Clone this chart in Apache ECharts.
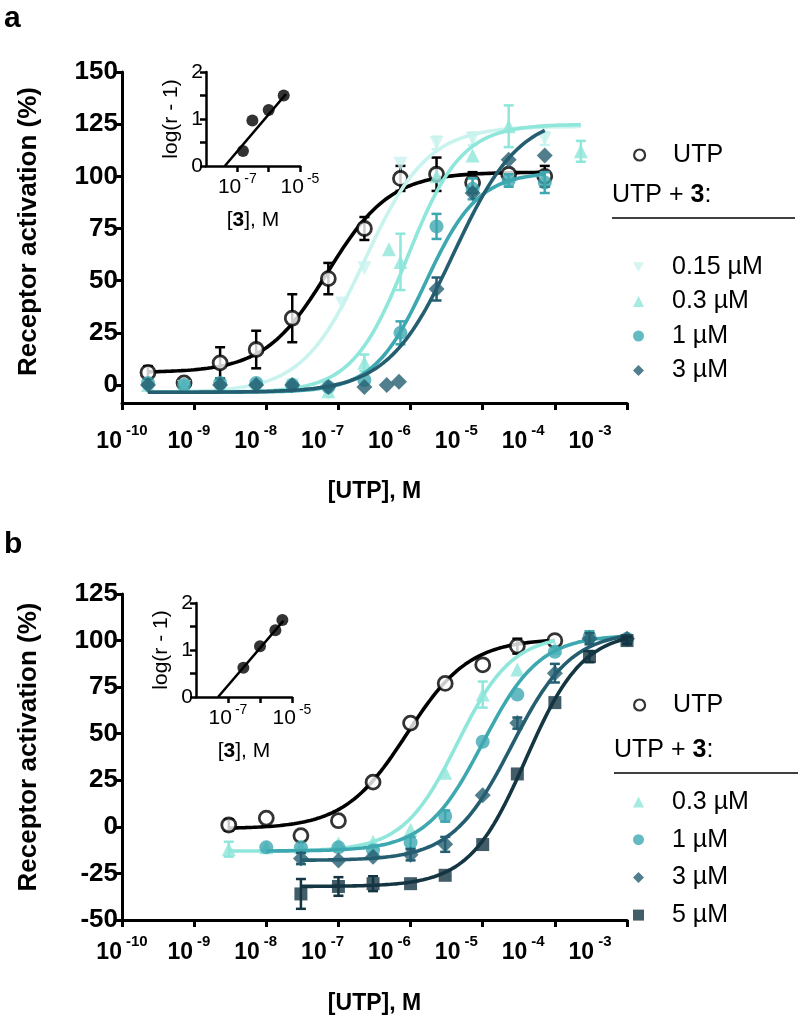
<!DOCTYPE html>
<html><head><meta charset="utf-8">
<script src="https://cdn.jsdelivr.net/npm/echarts@6/dist/echarts.min.js"></script>
<style>html,body{margin:0;padding:0;background:#fff}#c{width:799px;height:1028px}</style>
</head><body><div id="c"></div>
<script>
// ---------- tick labels ----------
const xTickExps = [-10, -9, -8, -7, -6, -5, -4, -3];
const yTicksA = [0, 25, 50, 75, 100, 125, 150];
const yTicksB = [-50, -25, 0, 25, 50, 75, 100, 125];
const insetXLabels = [-7, -5];
const insetXTicks = [-7, -6, -5];
const insetYLabels = [0, 1, 2];
const insetYTicks = [0, 0.5, 1, 1.5, 2];

// ---------- panel a : [log10 [UTP] (M), activation %, error] ----------
const namesA = ['UTP', '0.15 µM', '0.3 µM', '1 µM', '3 µM'];
const aUTP = [[-9.64, 6, 3], [-9.14, 1, 0], [-8.64, 10.6, 7.5], [-8.14, 17, 9], [-7.64, 32, 11.5], [-7.14, 51, 7.5], [-6.64, 75, 5.5], [-6.14, 99, 6], [-5.64, 101, 8], [-5.14, 97, 5], [-4.64, 101, 0], [-4.14, 100, 5]];
const a015 = [[-9.64, -1, 0], [-9.14, -1, 0], [-8.64, -1, 0], [-8.14, -1, 0], [-7.64, 0, 0], [-7.14, -4, 0], [-6.95, 39, 0], [-6.64, 56, 0], [-6.14, 106, 0], [-5.64, 116, 3], [-5.14, 118, 3], [-4.14, 118, 3]];
const a03 = [[-9.64, 0, 0], [-9.14, 0, 0], [-8.64, 0, 0], [-8.14, 0, 0], [-7.64, 0, 0], [-7.14, -3, 0], [-6.64, 10.6, 4], [-6.3, 65, 0], [-6.14, 59, 13.5], [-5.64, 100, 0], [-5.14, 110, 0], [-4.64, 124, 10], [-3.64, 112, 5]];
const a1 = [[-9.64, 1, 0], [-9.14, 0, 0], [-8.64, 1, 0], [-8.14, 1, 0], [-7.64, 0, 0], [-7.14, -1, 0], [-6.64, 2.4, 0], [-6.14, 25, 5.5], [-5.64, 76, 6], [-5.14, 94, 5], [-4.64, 98, 3], [-4.14, 97, 5]];
const a3 = [[-9.64, 0, 0], [-8.64, 0, 0], [-8.14, 0, 0], [-7.64, 0, 0], [-7.14, -1, 0], [-6.64, -1, 0], [-6.33, 0, 0], [-6.16, 1.5, 0], [-5.64, 46, 5.5], [-5.14, 92, 0], [-4.64, 108, 0], [-4.14, 110, 0]];
// fitted curves : [bottom, top, logEC50, hill, log start, log end]
const fitA = [[6, 102, -7.15, 1.0, -9.64, -4.14], [-3.5, 124, -6.63, 1.0, -9.64, -3.64], [-3.5, 125, -6.05, 1.15, -9.64, -3.64], [-3.5, 102, -5.79, 1.2, -9.64, -4.14], [-3.5, 130, -5.4, 0.95, -9.64, -4.14]];

// ---------- panel b ----------
const namesB = ['UTP', '0.3 µM', '1 µM', '3 µM', '5 µM'];
const bUTP = [[-8.52, 1, 3], [-8.0, 4.7, 0], [-7.52, -4.7, 0], [-7.0, 3.3, 0], [-6.52, 24, 0], [-6.0, 55.7, 0], [-5.52, 77, 0], [-5.0, 87, 0], [-4.52, 97, 4], [-4.0, 100, 0]];
const b03 = [[-8.52, -12, 4], [-8.0, -11, 0], [-7.52, -11, 0], [-7.0, -9, 0], [-6.52, -8, 0], [-6.0, -1.6, 0], [-5.52, 29, 0], [-5.0, 71, 7], [-4.52, 84.5, 0], [-4.0, 96, 0]];
const b1 = [[-8.0, -11, 0], [-7.52, -11, 0], [-7.0, -11, 0], [-6.52, -12.6, 0], [-6.0, -8.4, 3], [-5.52, 5.8, 3], [-5.0, 45.7, 0], [-4.52, 71, 0], [-4.0, 94, 0], [-3.52, 102, 3], [-3.0, 101, 0]];
const b3 = [[-7.52, -17, 3], [-7.0, -18, 0], [-6.52, -16, 0], [-6.0, -15, 3], [-5.52, -9.4, 4], [-5.0, 17, 0], [-4.52, 55.7, 3], [-4.0, 82.5, 5], [-3.52, 101, 3], [-3.0, 101, 0]];
const b5 = [[-7.52, -36, 8], [-7.0, -32, 5], [-6.52, -30.5, 4], [-6.0, -30.5, 0], [-5.52, -26, 0], [-5.0, -9.5, 0], [-4.52, 28.4, 0], [-4.0, 66.7, 0], [-3.52, 91.4, 3], [-3.0, 100, 2]];
const fitB = [[-1, 101, -6.05, 1.0, -8.52, -4.0], [-13, 103, -5.35, 1.15, -8.52, -4.0], [-13, 103, -5.0, 1.1, -8.0, -3.0], [-18, 105, -4.6, 1.05, -7.52, -3.0], [-32, 105, -4.4, 1.1, -7.52, -3.0]];

// ---------- insets : Schild plots ----------
const insetA_logB = [-6.82, -6.52, -6.0, -5.52];
const insetA_logR = [0.32, 0.97, 1.19, 1.5];
const insetA_line = [[-7.4, 0], [-5.45, 1.53]];
const insetB_logB = [-6.52, -6.0, -5.52, -5.3];
const insetB_logR = [0.62, 1.08, 1.42, 1.64];
const insetB_line = [[-7.31, 0], [-5.27, 1.62]];

// ---------- styling ----------
const FONT = 'Liberation Sans, Arial, Helvetica, sans-serif';
const colorsA = ['#000000', '#c9f3ee', '#8fe6da', '#3ea8b1', '#245e70'];
const colorsB = ['#000000', '#8fe6da', '#3ea8b1', '#245e70', '#143542'];
const symbolsA = ['circle', 'triangle', 'triangle', 'circle', 'diamond'];
const rotA = [0, 180, 0, 0, 0];
const symbolsB = ['circle', 'triangle', 'circle', 'diamond', 'rect'];
const sizesA = [14, 14, 14, 14, 16];
const sizesB = [14, 14, 14, 16, 13];
const invTri = 'path://M0,0 L10,0 L5,8.66 Z';
// tick-label row of the original figure is set slightly narrower than the plotted decade scale
const LABEL_AXIS_MAX = -2.447;

function curve(p) {
  const [bot, top, ec, h, x0, x1] = p;
  const pts = [];
  const n = 120;
  for (let i = 0; i <= n; i++) {
    const x = x0 + (x1 - x0) * i / n;
    pts.push([x, bot + (top - bot) / (1 + Math.pow(10, (ec - x) * h))]);
  }
  return pts;
}

function errSeries(data, color, gi, z) {
  return {
    type: 'custom', xAxisIndex: gi, yAxisIndex: gi, z: z, silent: true,
    data: data.filter(d => d[2] > 0).map(d => [d[0], d[1] - d[2], d[1] + d[2]]),
    encode: { x: 0, y: [1, 2] },
    renderItem: function (params, api) {
      const lo = api.coord([api.value(0), api.value(1)]);
      const hi = api.coord([api.value(0), api.value(2)]);
      const w = 5;
      const st = { stroke: color, lineWidth: 2.5 };
      return {
        type: 'group', children: [
          { type: 'line', shape: { x1: lo[0], y1: lo[1], x2: hi[0], y2: hi[1] }, style: st },
          { type: 'line', shape: { x1: lo[0] - w, y1: lo[1], x2: lo[0] + w, y2: lo[1] }, style: st },
          { type: 'line', shape: { x1: hi[0] - w, y1: hi[1], x2: hi[0] + w, y2: hi[1] }, style: st }
        ]
      };
    }
  };
}

function panelSeries(datasets, fits, names, colors, symbols, rots, sizes, gi) {
  const out = [];
  datasets.forEach((d, i) => {
    const z = 2 + i * 3;
    out.push({
      type: 'line', name: names[i] + ' fit', xAxisIndex: gi, yAxisIndex: gi, z: z,
      data: curve(fits[i]), showSymbol: false, smooth: false, silent: true,
      lineStyle: { color: colors[i], width: 3.6 }
    });
    out.push(errSeries(d, colors[i], gi, z + 1));
    const hollow = i === 0;
    out.push({
      type: 'scatter', name: names[i], xAxisIndex: gi, yAxisIndex: gi, z: z + 2,
      data: d.map(p => [p[0], p[1]]),
      symbol: symbols[i], symbolRotate: rots[i], symbolSize: sizes[i],
      itemStyle: hollow ? { color: '#fff', borderColor: '#000', borderWidth: 2.8 } : { color: colors[i] }
    });
  });
  return out;
}

const tickLabelStyle = { fontFamily: FONT, fontSize: 26, fontWeight: 'bold', color: '#000' };
function xMainAxis(gi, nameGap) {
  return {
    type: 'value', gridIndex: gi, min: -10, max: -3, interval: 1,
    axisLine: { show: true, onZero: false, lineStyle: { color: '#000', width: 3 } },
    axisTick: { show: true, length: 7, lineStyle: { color: '#000', width: 3 } },
    splitLine: { show: false },
    axisLabel: { show: false },
    name: '[UTP], M', nameLocation: 'middle', nameGap: nameGap,
    nameTextStyle: { fontFamily: FONT, fontSize: 23, fontWeight: 'bold', color: '#000' }
  };
}
function xLabelAxis(gi, margin) {
  return {
    type: 'value', gridIndex: gi, min: -10, max: LABEL_AXIS_MAX, position: 'bottom',
    axisLine: { show: false, onZero: false }, axisTick: { show: false }, splitLine: { show: false },
    axisLabel: {
      customValues: xTickExps, margin: margin, showMinLabel: true, showMaxLabel: true,
      formatter: v => '{b|10}{s|' + v + '}',
      rich: {
        b: { fontFamily: FONT, fontSize: 23, fontWeight: 'bold', color: '#000', lineHeight: 30, verticalAlign: 'bottom' },
        s: { fontFamily: FONT, fontSize: 15, fontWeight: 'bold', color: '#000', lineHeight: 16, verticalAlign: 'top', padding: [0, 0, 0, 4] }
      }
    }
  };
}
function yMainAxis(gi, min, max, ticks, shift) {
  return {
    type: 'value', gridIndex: gi, min: min, max: max,
    axisLine: { show: true, onZero: false, lineStyle: { color: '#000', width: 3 } },
    axisTick: { show: true, length: 7, customValues: ticks, lineStyle: { color: '#000', width: 3 } },
    axisLabel: Object.assign({ customValues: ticks, margin: 4 }, tickLabelStyle),
    splitLine: { show: false },
    name: 'Receptor activation (%)', nameLocation: 'middle', nameGap: 80, nameRotate: 90,
    nameTextStyle: { fontFamily: FONT, fontSize: 26, fontWeight: 'bold', color: '#000', padding: [0, 0, 0, shift] }
  };
}
const insetLabel = { fontFamily: FONT, fontSize: 21, color: '#000' };
function xInsetAxis(gi) {
  return {
    type: 'value', gridIndex: gi, min: -8, max: -5,
    axisLine: { show: true, onZero: false, lineStyle: { color: '#000', width: 2.5 } },
    axisTick: { show: true, length: 6, customValues: insetXTicks, lineStyle: { color: '#000', width: 2.5 } },
    splitLine: { show: false },
    axisLabel: {
      customValues: insetXLabels, margin: 6,
      formatter: v => '{b|10}{s|' + v + '}',
      rich: {
        b: { fontFamily: FONT, fontSize: 21, color: '#000', lineHeight: 26, verticalAlign: 'bottom' },
        s: { fontFamily: FONT, fontSize: 14, color: '#000', lineHeight: 14, verticalAlign: 'top', padding: [0, 0, 0, 3] }
      }
    },
    name: '{n|[}{b|3}{n|], M}', nameLocation: 'middle', nameGap: 44,
    nameTextStyle: { rich: { n: { fontFamily: FONT, fontSize: 21, color: '#000' }, b: { fontFamily: FONT, fontSize: 21, fontWeight: 'bold', color: '#000' } } }
  };
}
function yInsetAxis(gi) {
  return {
    type: 'value', gridIndex: gi, min: 0, max: 2,
    axisLine: { show: true, onZero: false, lineStyle: { color: '#000', width: 2.5 } },
    axisTick: { show: true, length: 6, customValues: insetYTicks, lineStyle: { color: '#000', width: 2.5 } },
    axisLabel: Object.assign({ customValues: insetYLabels, margin: 3 }, insetLabel),
    splitLine: { show: false },
    name: 'log(r - 1)', nameLocation: 'middle', nameGap: 24, nameRotate: 90,
    nameTextStyle: insetLabel
  };
}
function insetSeries(gi, xs, ys, line) {
  return [
    { type: 'line', name: 'schild' + gi, xAxisIndex: gi, yAxisIndex: gi, data: line, showSymbol: false, silent: true, lineStyle: { color: '#000', width: 2.5 }, z: 20 },
    { type: 'scatter', name: 'schildpts' + gi, xAxisIndex: gi, yAxisIndex: gi, data: xs.map((x, i) => [x, ys[i]]), symbol: 'circle', symbolSize: 12, itemStyle: { color: '#000' }, z: 21 }
  ];
}

const legendText = { fontFamily: FONT, fontSize: 25, color: '#000', padding: [0, 0, 0, 23], lineHeight: 26 };
const headerRich = { n: { fontFamily: FONT, fontSize: 25, fill: '#000' }, b: { fontFamily: FONT, fontSize: 25, fontWeight: 'bold', fill: '#000' } };
const utpIcon = { name: 'UTP', icon: 'circle', itemStyle: { color: '#fff', borderColor: '#000', borderWidth: 2.2 } };

const chart = echarts.init(document.getElementById('c'), null, { renderer: 'canvas' });
const option = {
  backgroundColor: '#fff',
  animation: false,
  grid: [
    { left: 122, top: 72, width: 505, height: 331 },
    { left: 206, top: 72, width: 94, height: 94 },
    { left: 122, top: 594, width: 505, height: 326 },
    { left: 196, top: 603, width: 96, height: 94 }
  ],
  xAxis: [xMainAxis(0, 77), xInsetAxis(1), xMainAxis(2, 72), xInsetAxis(3), xLabelAxis(0, 20), xLabelAxis(2, 14)],
  yAxis: [yMainAxis(0, -8.63, 150, yTicksA, 12), yInsetAxis(1), yMainAxis(2, -50, 125, yTicksB, 20), yInsetAxis(3)],
  legend: [
    { selectedMode: false, orient: 'vertical', left: 628, top: 137, itemWidth: 11, itemHeight: 11, itemGap: 8, textStyle: legendText,
      data: [utpIcon] },
    { selectedMode: false, orient: 'vertical', left: 628, top: 249, itemWidth: 11, itemHeight: 11, itemGap: 8.5, textStyle: legendText,
      data: [{ name: '0.15 µM', icon: invTri }, { name: '0.3 µM', icon: 'triangle' }, { name: '1 µM', icon: 'circle' }, { name: '3 µM', icon: 'diamond' }] },
    { selectedMode: false, orient: 'vertical', left: 628, top: 687, itemWidth: 11, itemHeight: 11, itemGap: 12, textStyle: legendText,
      data: [utpIcon] },
    { selectedMode: false, orient: 'vertical', left: 628, top: 784, itemWidth: 11, itemHeight: 11, itemGap: 11.7, textStyle: legendText,
      data: [{ name: '0.3 µM', icon: 'triangle' }, { name: '1 µM', icon: 'circle' }, { name: '3 µM', icon: 'diamond' }, { name: '5 µM', icon: 'rect' }] }
  ],
  graphic: [
    { type: 'text', left: 4, top: 4, style: { text: 'a', font: 'bold 30px ' + FONT, fill: '#000' } },
    { type: 'text', left: 4, top: 530, style: { text: 'b', font: 'bold 30px ' + FONT, fill: '#000' } },
    { type: 'text', left: 612, top: 183, style: { text: '{n|UTP + }{b|3}{n|:}', rich: headerRich } },
    { type: 'line', shape: { x1: 612, y1: 218, x2: 795, y2: 218 }, style: { stroke: '#000', lineWidth: 1.5 } },
    { type: 'text', left: 614, top: 738, style: { text: '{n|UTP + }{b|3}{n|:}', rich: headerRich } },
    { type: 'line', shape: { x1: 614, y1: 773, x2: 798, y2: 773 }, style: { stroke: '#000', lineWidth: 1.5 } }
  ],
  series: [].concat(
    panelSeries([aUTP, a015, a03, a1, a3], fitA, namesA, colorsA, symbolsA, rotA, sizesA, 0),
    insetSeries(1, insetA_logB, insetA_logR, insetA_line),
    panelSeries([bUTP, b03, b1, b3, b5], fitB, namesB, colorsB, symbolsB, [0, 0, 0, 0, 0], sizesB, 2),
    insetSeries(3, insetB_logB, insetB_logR, insetB_line)
  )
};
chart.setOption(option);
</script>
</body></html>
